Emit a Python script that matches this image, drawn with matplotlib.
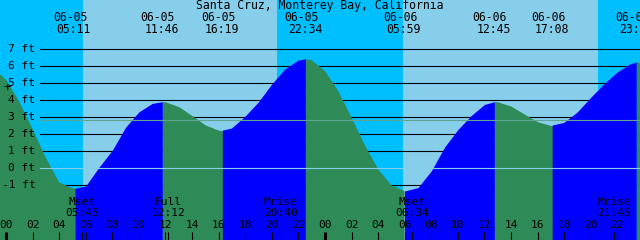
# tide chart: Santa Cruz, Monterey Bay

import matplotlib
matplotlib.use("Agg")
import matplotlib.pyplot as plt
import matplotlib.transforms as mtransforms

TITLE = "Santa Cruz, Monterey Bay, California"

# tide height (ft), hours counted from 06-05 00:00
hourly_hours = [-0.45] + list(range(0, 48)) + [47.7]
hourly_heights = [
    5.5,
    5.2, 3.9, 2.3, 0.6, -0.85, -1.19, -1.05, 0.05, 1.05, 2.4, 3.3, 3.8,
    3.89, 3.61, 3.08, 2.53, 2.22, 2.32, 3.0, 3.83, 4.88, 5.78, 6.31, 6.34,
    5.71, 4.52, 2.97, 1.35, -0.07, -1.02, -1.35, -1.15, -0.17, 1.23, 2.26, 3.08,
    3.74, 3.89, 3.64, 3.17, 2.72, 2.5, 2.65, 3.25, 4.1, 4.9, 5.6, 6.1,
    6.19,
]

# high / low tides listed along the top
event_days = [0, 0, 0, 0, 1, 1, 1, 1]
event_dates = ['06-05', '06-05', '06-05', '06-05', '06-06', '06-06', '06-06', '06-06']
event_times = ['05:11', '11:46', '16:19', '22:34', '05:59', '12:45', '17:08', '23:28']
event_heights = [-1.2, 3.9, 2.2, 6.4, -1.35, 3.9, 2.5, 6.2]

# moon events along the bottom
moon_days = [0, 0, 0, 1, 1]
moon_names = ['Mset', 'Full', 'Mrise', 'Mset', 'Mrise']
moon_times = ['05:45', '12:12', '20:40', '06:34', '21:45']

# sunrise / sunset
sun_days = [0, 0, 1, 1]
sun_times = ['05:47', '20:23', '05:52', '20:33']

ft_levels = [-1, 0, 1, 2, 3, 4, 5, 6, 7]
mean_level = 2.82

NIGHT = '#00bfff'
DAY = '#87ceeb'
RISING = '#0000ff'
FALLING = '#2e8b57'
FONT = 'DejaVu Sans Mono'


def to_hours(day, hhmm):
    h, m = hhmm.split(':')
    return day * 24 + int(h) + int(m) / 60


event_hours = [to_hours(d, t) for d, t in zip(event_days, event_times)]
moon_hours = [to_hours(d, t) for d, t in zip(moon_days, moon_times)]
sun_hours = [to_hours(d, t) for d, t in zip(sun_days, sun_times)]

# merge hourly readings with the extremes
pts = sorted(zip(hourly_hours + event_hours, hourly_heights + event_heights))
tt = [p[0] for p in pts]
hh = [p[1] for p in pts]

W, H = 640, 240
px_per_hour = 13.29
x_origin = 6
px_per_ft = 17
y_zero = 168

fig = plt.figure(figsize=(6.4, 2.4), dpi=100)
ax = fig.add_axes([0, 0, 1, 1])
ax.set_xlim(-x_origin / px_per_hour, (W - x_origin) / px_per_hour)
ax.set_ylim((y_zero - H) / px_per_ft, y_zero / px_per_ft)
ax.axis('off')
x0, x1 = ax.get_xlim()


def fy(py):
    # pixel row -> axes fraction
    return 1 - py / H


bt = mtransforms.blended_transform_factory(ax.transData, ax.transAxes)
lt = mtransforms.blended_transform_factory(ax.transAxes, ax.transData)

# day / night bands
edges = [x0] + sun_hours + [x1]
for i in range(len(edges) - 1):
    ax.axvspan(edges[i], edges[i + 1], color=NIGHT if i % 2 == 0 else DAY, lw=0, zorder=0)

# grid lines sit behind the water
for v in ft_levels:
    if v != 0:
        ax.axhline(v, xmin=39.5 / W, xmax=1, color='black', lw=0.8, zorder=1)

# fill under the tide curve, blue rising, green falling
bounds = [x0] + event_hours + [x1]
for a, b in zip(bounds[:-1], bounds[1:]):
    seg = [(t, h) for t, h in zip(tt, hh) if a <= t <= b]
    st = [s[0] for s in seg]
    sh = [s[1] for s in seg]
    rising = sh[-1] > sh[0]
    ax.fill_between(st, sh, -10, color=RISING if rising else FALLING, lw=0, zorder=2)

ax.axhline(0, xmin=39.5 / W, xmax=1, color=DAY, lw=0.8, zorder=3)
ax.axhline(mean_level, xmin=39.5 / W, xmax=1, color='#5fa592', lw=0.8, zorder=3)

# left labels
for v in ft_levels:
    ax.text(35.5 / W, v, f"{v} ft", transform=lt, ha='right', va='center',
            fontsize=8, family=FONT, zorder=5)
ax.text(7.5 / W, fy(88), '+', transform=ax.transAxes, ha='center', va='center',
        fontsize=9, family=FONT, zorder=5)

# header
ax.text(0.5, fy(6), TITLE, transform=ax.transAxes, ha='center', va='center',
        fontsize=8.3, family=FONT, zorder=5)
for t, d, s in zip(event_hours, event_dates, event_times):
    ax.text(t - 4.5 / px_per_hour, fy(17.5), d, transform=bt, ha='center', va='center',
            fontsize=8.3, family=FONT, zorder=5)
    ax.text(t - 1 / px_per_hour, fy(29.5), s, transform=bt, ha='center', va='center',
            fontsize=8.3, family=FONT, zorder=5)

# hour ticks along the bottom
for hr in range(0, 48, 2):
    lw = 2.2 if hr % 24 == 0 else 0.8
    ax.vlines(hr, 0, fy(231.5), transform=bt, color='black', lw=lw, zorder=5)
    ax.text(hr, fy(225.5), f"{hr % 24:02d}", transform=bt, ha='center', va='center',
            fontsize=8, family=FONT, zorder=5)

for t, n, s in zip(moon_hours, moon_names, moon_times):
    ax.vlines(t, 0, fy(231.5), transform=bt, color='black', lw=0.8, zorder=5)
    ax.text(t, fy(201.7), n, transform=bt, ha='center', va='center',
            fontsize=8, family=FONT, zorder=5)
    ax.text(t, fy(213.3), s, transform=bt, ha='center', va='center',
            fontsize=8, family=FONT, zorder=5)

fig.savefig('out.png', dpi=100)
